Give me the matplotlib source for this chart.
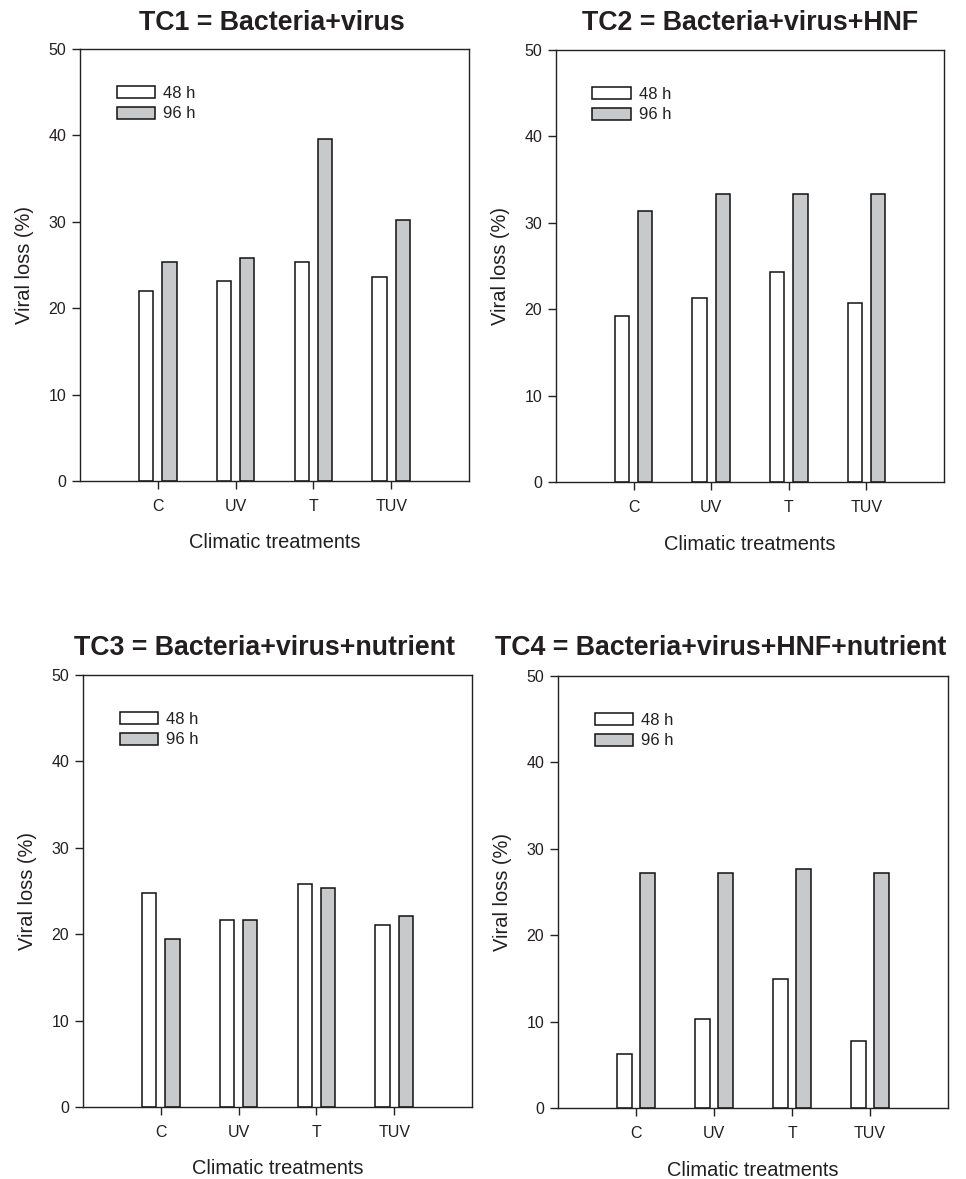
import matplotlib
matplotlib.use("Agg")
import matplotlib.pyplot as plt
import numpy as np

plt.rcParams['font.family'] = ['Liberation Sans', 'DejaVu Sans']

# ---- data ----
categories = ['C', 'UV', 'T', 'TUV']
series_labels = ['48 h', '96 h']
titles = ['TC1 = Bacteria+virus', 'TC2 = Bacteria+virus+HNF',
          'TC3 = Bacteria+virus+nutrient', 'TC4 = Bacteria+virus+HNF+nutrient']
tc1_48 = [22.0, 23.2, 25.35, 23.65]
tc1_96 = [25.3, 25.85, 39.6, 30.25]
tc2_48 = [19.2, 21.3, 24.3, 20.75]
tc2_96 = [31.35, 33.35, 33.35, 33.35]
tc3_48 = [24.8, 21.65, 25.85, 21.1]
tc3_96 = [19.5, 21.65, 25.3, 22.15]
tc4_48 = [6.25, 10.3, 14.9, 7.75]
tc4_96 = [27.2, 27.2, 27.7, 27.2]
y_ticks = [0, 10, 20, 30, 40, 50]
xlabel = 'Climatic treatments'
ylabel = 'Viral loss (%)'

W, H = 966, 1179
fig = plt.figure(figsize=(W / 100, H / 100), dpi=100)

TEXT = '#231f20'
GRAY = '#c8c9cb'

# (left, right, top, bottom) in pixels; title center (x, y) in pixels
panels = [
    ((80, 469, 49, 481), (272, 23), tc1_48, tc1_96),
    ((556, 944, 50, 482), (750, 23), tc2_48, tc2_96),
    ((83, 472, 675, 1107), (264, 648), tc3_48, tc3_96),
    ((558, 948, 676, 1108), (721, 648), tc4_48, tc4_96),
]

x = np.arange(1, len(categories) + 1)
bw = 0.185
off = 0.15

for i, ((l, r, t, b), (tx, ty), d48, d96) in enumerate(panels):
    ax = fig.add_axes([l / W, 1 - b / H, (r - l) / W, (b - t) / H])
    ax.bar(x - off, d48, width=bw, color='white', edgecolor='#111111',
           linewidth=1.1, label=series_labels[0], zorder=2)
    ax.bar(x + off, d96, width=bw, color=GRAY, edgecolor='#111111',
           linewidth=1.1, label=series_labels[1], zorder=2)
    ax.set_xlim(0, 5)
    ax.set_ylim(0, 50)
    ax.set_yticks(y_ticks)
    ax.set_xticks(x)
    ax.set_xticklabels(categories)
    ax.tick_params(axis='both', direction='out', length=6, width=1.0,
                   colors='#222222', labelsize=11.5, labelcolor=TEXT)
    ax.tick_params(axis='x', pad=7)
    ax.tick_params(axis='y', pad=4)
    for s in ax.spines.values():
        s.set_linewidth(1.0)
        s.set_color('#222222')
    ax.set_xlabel(xlabel, fontsize=14.4, color=TEXT, labelpad=14)
    ax.set_ylabel(ylabel, fontsize=14.4, color=TEXT, labelpad=10)
    leg = ax.legend(loc='upper left', bbox_to_anchor=(0.094, 0.914),
                    frameon=False, fontsize=12, handlelength=2.3,
                    handleheight=0.75, handletextpad=0.5, labelspacing=0.32,
                    borderpad=0, borderaxespad=0)
    for txt in leg.get_texts():
        txt.set_color(TEXT)
    fig.text(tx / W, 1 - ty / H, titles[i], fontsize=19.3, fontweight='bold',
             ha='center', va='center', color=TEXT)

fig.savefig('out.png', dpi=100)
